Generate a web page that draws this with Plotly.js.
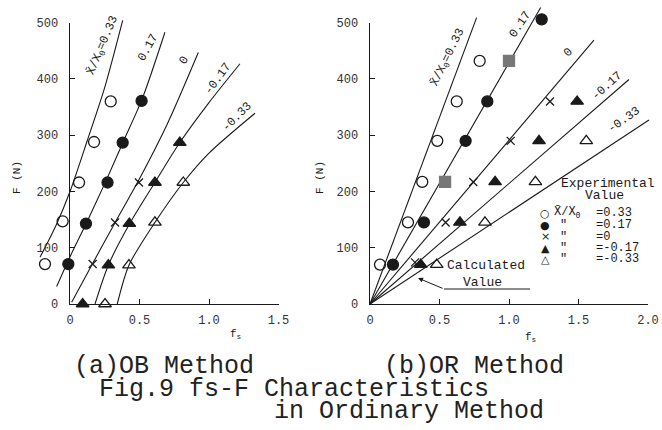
<!DOCTYPE html>
<html>
<head>
<meta charset="utf-8">
<script src="https://cdn.plot.ly/plotly-3.0.1.min.js"></script>
<style>html,body{margin:0;padding:0;background:#fff}#chart{width:662px;height:430px}</style>
</head>
<body>
<div id="chart"></div>
<script>
// ---------- DATA ----------
// (a) OB Method : experimental values
const ob_p033_fs = [-0.18, -0.053, 0.065, 0.173, 0.293];
const ob_p033_F  = [71, 147, 216, 288, 360];
const ob_p017_fs = [-0.012, 0.115, 0.27, 0.379, 0.515];
const ob_p017_F  = [71, 143, 216, 287, 361];
const ob_0_fs    = [0.163, 0.324, 0.496];
const ob_0_F     = [71, 145, 216];
const ob_n017_fs = [0.091, 0.276, 0.427, 0.611, 0.79];
const ob_n017_F  = [0, 69, 143, 216, 287];
const ob_n033_fs = [0.252, 0.424, 0.611, 0.815];
const ob_n033_F  = [0, 69, 145, 216];
// (a) OB Method : calculated curves
const obc_p033_fs = [-0.216, -0.1, 0, 0.125, 0.25, 0.379];
const obc_p033_F  = [83, 140, 200, 291, 385, 504];
const obc_p017_fs = [-0.096, 0, 0.12, 0.25, 0.384, 0.52, 0.683];
const obc_p017_F  = [31, 84, 145, 214, 289, 365, 483];
const obc_0_fs    = [0.012, 0.165, 0.325, 0.49, 0.7, 0.923];
const obc_0_F     = [3, 73, 145, 218, 320, 447];
const obc_n017_fs = [0.18, 0.276, 0.43, 0.611, 0.79, 1.0, 1.223];
const obc_n017_F  = [0, 69, 143, 216, 287, 358, 427];
const obc_n033_fs = [0.34, 0.424, 0.611, 0.815, 0.995, 1.331];
const obc_n033_F  = [0, 69, 145, 216, 267, 339];

// (b) OR Method : experimental values
const or_p033_fs = [0.072, 0.273, 0.376, 0.484, 0.624, 0.789];
const or_p033_F  = [70, 145, 217, 290, 360, 432];
const or_p017_fs = [0.165, 0.388, 0.688, 0.844, 1.235];
const or_p017_F  = [70, 145, 290, 360, 506];
const or_p017g_fs = [0.54, 1.0];
const or_p017g_F  = [217, 432];
const or_0_fs    = [0.324, 0.544, 0.743, 1.012, 1.295];
const or_0_F     = [74, 145, 217, 290, 360];
const or_n017_fs = [0.365, 0.647, 0.9, 1.216, 1.49];
const or_n017_F  = [70, 145, 217, 290, 360];
const or_n033_fs = [0.48, 0.827, 1.19, 1.556];
const or_n033_F  = [70, 145, 217, 290];
// (b) OR Method : calculated straight lines (origin -> end point)
const orc_labels = ["0.33", "0.17", "0", "-0.17", "-0.33"];
const orc_end_fs = [0.767, 1.228, 1.611, 1.863, 2.007];
const orc_end_F  = [509, 527, 469, 399, 327];

// tick labels
const xTicksA = [0, 0.5, 1.0, 1.5];
const xTickTextA = ["0", "0.5", "1.0", "1.5"];
const xTicksB = [0, 0.5, 1.0, 1.5, 2.0];
const xTickTextB = ["0", "0.5", "1.0", "1.5", "2.0"];
const yTicks = [0, 100, 200, 300, 400, 500];

// ---------- LAYOUT HELPERS ----------
const W = 662, H = 430;
const px = v => v / W;
const py = v => 1 - v / H;
const X0A = 70, X0B = 370, KX = 139;   // pixel of fs=0, pixels per unit fs
const Y0 = 304, KY = 0.5626;           // pixel of F=0, pixels per N
const INK = '#1a1a1a';
const MONO = 'Liberation Mono, DejaVu Sans Mono, monospace';

const xRangeA = [-0.3, 1.55], xRangeB = [-0.05, 2.1], yRange = [-10, 540];
const domX = (r, x0) => [px(x0 + KX * r[0]), px(x0 + KX * r[1])];
const domY = r => [py(Y0 - KY * r[0]), py(Y0 - KY * r[1])];

function pts(x, y, xa, ya, sym, color) {
  return {x, y, xaxis: xa, yaxis: ya, type: 'scatter', mode: 'markers', cliponaxis: false,
    marker: {symbol: sym, size: sym.indexOf('x') === 0 ? 8 : 11, color: color || INK,
      line: {color: color || INK, width: 1.3}}, hoverinfo: 'x+y'};
}
function curve(x, y, xa, ya, spline) {
  return {x, y, xaxis: xa, yaxis: ya, type: 'scatter', mode: 'lines',
    line: {color: INK, width: 1.1, shape: spline ? 'spline' : 'linear', smoothing: 0.8}, hoverinfo: 'skip'};
}

const traces = [
  curve(obc_p033_fs, obc_p033_F, 'x', 'y', true),
  curve(obc_p017_fs, obc_p017_F, 'x', 'y', true),
  curve(obc_0_fs, obc_0_F, 'x', 'y', true),
  curve(obc_n017_fs, obc_n017_F, 'x', 'y', true),
  curve(obc_n033_fs, obc_n033_F, 'x', 'y', true),
  pts(ob_p033_fs, ob_p033_F, 'x', 'y', 'circle-open'),
  pts(ob_p017_fs, ob_p017_F, 'x', 'y', 'circle'),
  pts(ob_0_fs, ob_0_F, 'x', 'y', 'x-thin-open'),
  pts(ob_n017_fs, ob_n017_F, 'x', 'y', 'triangle-up'),
  pts(ob_n033_fs, ob_n033_F, 'x', 'y', 'triangle-up-open'),
];
orc_end_fs.forEach((f, i) => traces.push(curve([0, f], [0, orc_end_F[i]], 'x2', 'y2', false)));
traces.push(
  pts(or_p033_fs, or_p033_F, 'x2', 'y2', 'circle-open'),
  pts(or_p017_fs, or_p017_F, 'x2', 'y2', 'circle'),
  pts(or_p017g_fs, or_p017g_F, 'x2', 'y2', 'square', '#777'),
  pts(or_0_fs, or_0_F, 'x2', 'y2', 'x-thin-open'),
  pts(or_n017_fs, or_n017_F, 'x2', 'y2', 'triangle-up'),
  pts(or_n033_fs, or_n033_F, 'x2', 'y2', 'triangle-up-open')
);
// empty traces so that the visible frame axes are drawn
traces.push({x: [], y: [], xaxis: 'x3', yaxis: 'y3', type: 'scatter', mode: 'markers', hoverinfo: 'skip'});
traces.push({x: [], y: [], xaxis: 'x4', yaxis: 'y4', type: 'scatter', mode: 'markers', hoverinfo: 'skip'});

const hidden = {visible: false, fixedrange: true};
const shown = {showline: true, linecolor: INK, linewidth: 1.4, ticks: 'inside', ticklen: 5,
  tickcolor: INK, tickwidth: 1, showgrid: false, zeroline: false, fixedrange: true,
  tickfont: {family: MONO, size: 12, color: '#333'}};

const ann = [];
function txt(text, x, y, o) {
  ann.push(Object.assign({text, x: px(x), y: py(y), xref: 'paper', yref: 'paper',
    xanchor: 'center', yanchor: 'middle',
    showarrow: false, font: {family: MONO, size: 12, color: INK}}, o || {}));
}
const XBAR = 'X\u0304/X<sub>0</sub>';
// curve labels (a)
txt(XBAR + '=0.33', 103, 46, {textangle: -67});
txt('0.17', 148, 48, {textangle: -61});
txt('0', 184, 61, {textangle: -60});
txt('-0.17', 218, 79, {textangle: -54});
txt('-0.33', 237, 117, {textangle: -45});
// curve labels (b)
txt(XBAR + '=0.33', 448, 58, {textangle: -64});
txt('0.17', 520, 25, {textangle: -56});
txt('0', 568, 53, {textangle: -45});
txt('-0.17', 607, 86, {textangle: -42});
txt('-0.33', 624, 120, {textangle: -35});
// axis titles
txt('F (N)', 17, 178, {textangle: -90, font: {family: MONO, size: 11, color: INK}});
txt('F (N)', 320, 178, {textangle: -90, font: {family: MONO, size: 11, color: INK}});
txt('f<sub>s</sub>', 235, 334, {font: {family: MONO, size: 11, color: INK}});
txt('f<sub>s</sub>', 530, 337, {font: {family: MONO, size: 11, color: INK}});
// legend of experimental values
txt('Experimental', 608, 183, {font: {family: MONO, size: 13, color: INK}});
txt('Value', 604, 196, {font: {family: MONO, size: 13, color: INK}});
const LEG = {family: MONO, size: 12, color: INK};
const legRows = [
  {sym: '\u25CB', lab: XBAR, val: '=0.33', y: 213},
  {sym: '\u25CF', lab: '"', val: '=0.17', y: 225},
  {sym: '\u00D7', lab: '"', val: '=0', y: 237},
  {sym: '\u25B2', lab: '"', val: '=-0.17', y: 248},
  {sym: '\u25B3', lab: '"', val: '=-0.33', y: 259},
];
legRows.forEach(r => {
  txt(r.sym, 545, r.y, {font: {family: 'DejaVu Sans', size: 11, color: INK}});
  txt(r.lab, r.lab === '"' ? 563 : 552, r.y, {xanchor: r.lab === '"' ? 'center' : 'left', font: LEG});
  txt(r.val, 594, r.y, {xanchor: 'left', font: LEG});
});
// calculated value note
txt('Calculated', 486, 265, {font: {family: MONO, size: 13, color: INK}});
txt('Value', 482, 282, {font: {family: MONO, size: 13, color: INK}});
ann.push({text: '', x: px(418), y: py(278), xref: 'paper', yref: 'paper', showarrow: true,
  ax: 26, ay: 11, arrowhead: 2, arrowsize: 1, arrowwidth: 1, arrowcolor: INK, standoff: 0});
// captions
const CAP = {family: MONO, size: 25, color: '#222'};
txt('(a)OB Method', 164, 366, {font: CAP});
txt('(b)OR Method', 474, 366, {font: CAP});
txt('Fig.9 fs-F Characteristics', 97, 389, {xanchor: 'left', font: CAP});
txt('in Ordinary Method', 272, 411, {xanchor: 'left', font: CAP});

const layout = {
  width: W, height: H, margin: {l: 0, r: 0, t: 0, b: 0},
  paper_bgcolor: '#fff', plot_bgcolor: 'rgba(0,0,0,0)', showlegend: false,
  xaxis:  Object.assign({domain: domX(xRangeA, X0A), range: xRangeA, anchor: 'y'}, hidden),
  yaxis:  Object.assign({domain: domY(yRange), range: yRange, anchor: 'x'}, hidden),
  xaxis2: Object.assign({domain: domX(xRangeB, X0B), range: xRangeB, anchor: 'y2'}, hidden),
  yaxis2: Object.assign({domain: domY(yRange), range: yRange, anchor: 'x2'}, hidden),
  xaxis3: Object.assign({domain: domX([0, 1.5], X0A), range: [0, 1.5], anchor: 'y3',
    tickvals: xTicksA, ticktext: xTickTextA, ticklabelstandoff: 4}, shown),
  yaxis3: Object.assign({domain: domY([0, 500]), range: [0, 500], anchor: 'x3',
    tickvals: yTicks, ticklabelstandoff: 8}, shown),
  xaxis4: Object.assign({domain: domX([0, 2], X0B), range: [0, 2], anchor: 'y4',
    tickvals: xTicksB, ticktext: xTickTextB, ticklabelstandoff: 4}, shown),
  yaxis4: Object.assign({domain: domY([0, 500]), range: [0, 500], anchor: 'x4',
    tickvals: yTicks, ticklabelstandoff: 8}, shown),
  annotations: ann,
  shapes: [{type: 'line', xref: 'paper', yref: 'paper', x0: px(444), x1: px(530), y0: py(289), y1: py(289),
    line: {color: INK, width: 1}}]
};

Plotly.newPlot('chart', traces, layout, {staticPlot: true, displayModeBar: false});
</script>
</body>
</html>
